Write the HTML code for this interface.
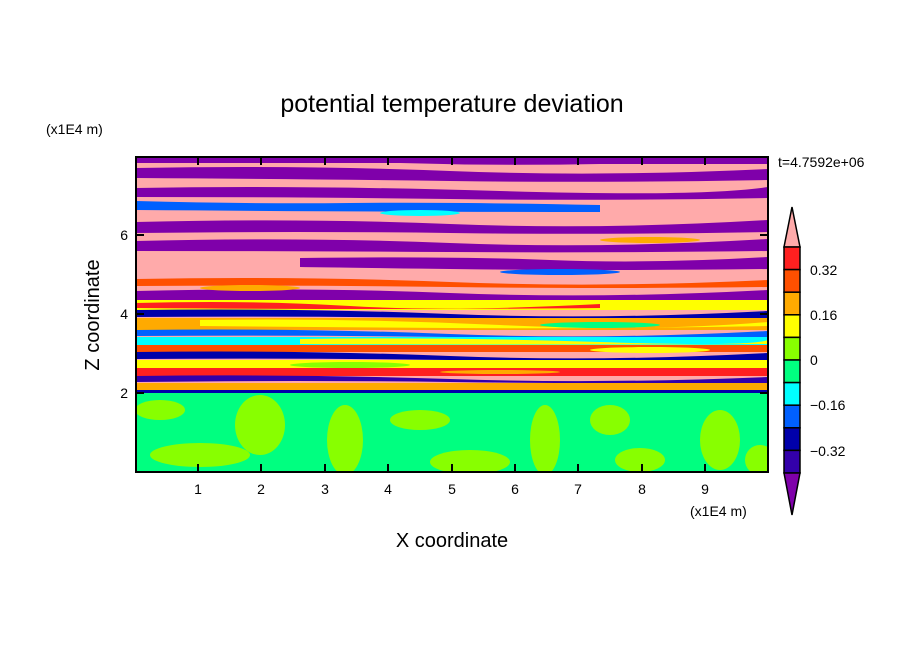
<!DOCTYPE html>
<html><head><meta charset="utf-8"><style>
body{margin:0;background:#fff;}
svg text{font-family:"Liberation Sans",sans-serif;fill:#000;}
</style></head><body>
<svg width="904" height="654" viewBox="0 0 904 654" xmlns="http://www.w3.org/2000/svg">
<rect width="904" height="654" fill="#fff"/>
<text x="452" y="112" font-size="25" text-anchor="middle">potential temperature deviation</text>
<text x="46" y="134" font-size="14">(x1E4 m)</text>
<text x="778" y="167" font-size="14">t=4.7592e+06</text>
<defs><clipPath id="c"><rect x="136" y="157" width="632" height="315"/></clipPath></defs>
<g clip-path="url(#c)">
<rect x="136" y="157" width="632" height="315" fill="#ffaaaa"/>
<rect x="136" y="393" width="632" height="80" fill="#00ff80"/>
<ellipse cx="200" cy="455" rx="50" ry="12" fill="#88ff00"/>
<ellipse cx="260" cy="425" rx="25" ry="30" fill="#88ff00"/>
<ellipse cx="345" cy="440" rx="18" ry="35" fill="#88ff00"/>
<ellipse cx="420" cy="420" rx="30" ry="10" fill="#88ff00"/>
<ellipse cx="470" cy="462" rx="40" ry="12" fill="#88ff00"/>
<ellipse cx="545" cy="440" rx="15" ry="35" fill="#88ff00"/>
<ellipse cx="610" cy="420" rx="20" ry="15" fill="#88ff00"/>
<ellipse cx="640" cy="460" rx="25" ry="12" fill="#88ff00"/>
<ellipse cx="720" cy="440" rx="20" ry="30" fill="#88ff00"/>
<ellipse cx="160" cy="410" rx="25" ry="10" fill="#88ff00"/>
<ellipse cx="760" cy="460" rx="15" ry="15" fill="#88ff00"/>
<g>
<path d="M136 157H768V164H600Q500 166 400 163H136Z" fill="#7f00aa"/>
<path d="M136 168Q300 165 450 171T768 169V180Q600 183 450 181T136 178Z" fill="#7f00aa"/>
<path d="M136 188Q300 185 500 191T768 187V198Q600 201 450 199T136 197Z" fill="#7f00aa"/>
<path d="M136 201Q250 204 350 203T600 205V212Q400 212 136 210Z" fill="#0060ff"/>
<path d="M136 222Q300 218 450 224T768 220V232Q600 235 450 233T136 233Z" fill="#7f00aa"/>
<path d="M136 241Q300 237 450 243T768 239V251Q600 253 450 252T136 251Z" fill="#7f00aa"/>
<path d="M300 258Q450 256 550 260T768 257V269Q600 271 450 269T300 267Z" fill="#7f00aa"/>
<path d="M136 260H300V265H136Z" fill="#ffaaaa"/>
<path d="M136 279Q300 276 450 282T768 280V287Q600 289 450 287T136 286Z" fill="#ff5000"/>
<path d="M136 291Q300 287 450 293T768 290V300Q600 302 450 301T136 300Z" fill="#7f00aa"/>
<path d="M136 300H768V310H136Z" fill="#ffff00"/>
<path d="M136 303Q250 300 350 306T600 304V308Q400 310 136 308Z" fill="#ff2020"/>
<path d="M136 310Q300 308 450 314T768 311V318Q600 320 450 318T136 317Z" fill="#0000aa"/>
<path d="M136 318H768V330H136Z" fill="#ffaa00"/>
<path d="M200 320Q350 318 500 325T768 322V326Q600 329 450 328T200 326Z" fill="#ffff00"/>
<path d="M136 330Q300 328 450 334T768 331V337Q600 339 450 337T136 336Z" fill="#0060ff"/>
<path d="M136 337H768V345H136Z" fill="#00ffff"/>
<path d="M300 339Q450 337 600 342T768 340V344Q600 345 300 344Z" fill="#ffff00"/>
<path d="M136 345H768V352H136Z" fill="#ff5000"/>
<path d="M136 352Q300 350 450 356T768 353V360Q600 362 450 360T136 359Z" fill="#0000aa"/>
<path d="M136 360H768V368H136Z" fill="#ffff00"/>
<path d="M136 368H768V376H136Z" fill="#ff2020"/>
<path d="M136 376Q300 374 450 379T768 377V383Q600 384 450 382T136 382Z" fill="#3300aa"/>
<path d="M136 383H768V390H136Z" fill="#ffaa00"/>
<path d="M136 390H768V393H136Z" fill="#0000aa"/>
<ellipse cx="420" cy="213" rx="40" ry="3" fill="#00ffff"/>
<ellipse cx="650" cy="240" rx="50" ry="3" fill="#ffaa00"/>
<ellipse cx="560" cy="272" rx="60" ry="3" fill="#0060ff"/>
<ellipse cx="250" cy="288" rx="50" ry="3" fill="#ffaa00"/>
<ellipse cx="600" cy="325" rx="60" ry="3" fill="#00ff80"/>
<ellipse cx="350" cy="365" rx="60" ry="3" fill="#88ff00"/>
<ellipse cx="650" cy="350" rx="60" ry="3" fill="#ffff00"/>
<ellipse cx="500" cy="372" rx="60" ry="2" fill="#ffaa00"/>
</g>
</g>
<rect x="136" y="157" width="632" height="315" fill="none" stroke="#000" stroke-width="2"/>
<g stroke="#000" stroke-width="2">
<path d="M198 472v-8M261 472v-8M325 472v-8M388 472v-8M452 472v-8M515 472v-8M578 472v-8M642 472v-8M705 472v-8"/>
<path d="M198 157v8M261 157v8M325 157v8M388 157v8M452 157v8M515 157v8M578 157v8M642 157v8M705 157v8"/>
<path d="M136 393h8M136 314h8M136 235h8M768 393h-8M768 314h-8M768 235h-8"/>
</g>
<g font-size="14" text-anchor="middle">
<text x="198" y="494">1</text><text x="261" y="494">2</text><text x="325" y="494">3</text><text x="388" y="494">4</text><text x="452" y="494">5</text><text x="515" y="494">6</text><text x="578" y="494">7</text><text x="642" y="494">8</text><text x="705" y="494">9</text>
</g>
<g font-size="14" text-anchor="end">
<text x="128" y="398">2</text><text x="128" y="319">4</text><text x="128" y="240">6</text>
</g>
<text x="690" y="516" font-size="14">(x1E4 m)</text>
<text x="452" y="547" font-size="20" text-anchor="middle">X coordinate</text>
<text x="0" y="0" font-size="20" text-anchor="middle" transform="translate(99 315) rotate(-90)">Z coordinate</text>
<g stroke="#000" stroke-width="1.5">
<path d="M792 207L784 247H800Z" fill="#ffaaaa"/>
<rect x="784" y="247" width="16" height="22.6" fill="#ff2020"/>
<rect x="784" y="269.6" width="16" height="22.6" fill="#ff5000"/>
<rect x="784" y="292.2" width="16" height="22.6" fill="#ffaa00"/>
<rect x="784" y="314.8" width="16" height="22.6" fill="#ffff00"/>
<rect x="784" y="337.4" width="16" height="22.6" fill="#88ff00"/>
<rect x="784" y="360" width="16" height="22.6" fill="#00ff80"/>
<rect x="784" y="382.6" width="16" height="22.6" fill="#00ffff"/>
<rect x="784" y="405.2" width="16" height="22.6" fill="#0060ff"/>
<rect x="784" y="427.8" width="16" height="22.6" fill="#0000aa"/>
<rect x="784" y="450.4" width="16" height="22.6" fill="#3300aa"/>
<path d="M784 473H800L792 515Z" fill="#7f00aa"/>
</g>
<g font-size="14">
<text x="810" y="275">0.32</text>
<text x="810" y="320">0.16</text>
<text x="810" y="365">0</text>
<text x="810" y="410">−0.16</text>
<text x="810" y="456">−0.32</text>
</g>
</svg>
</body></html>
